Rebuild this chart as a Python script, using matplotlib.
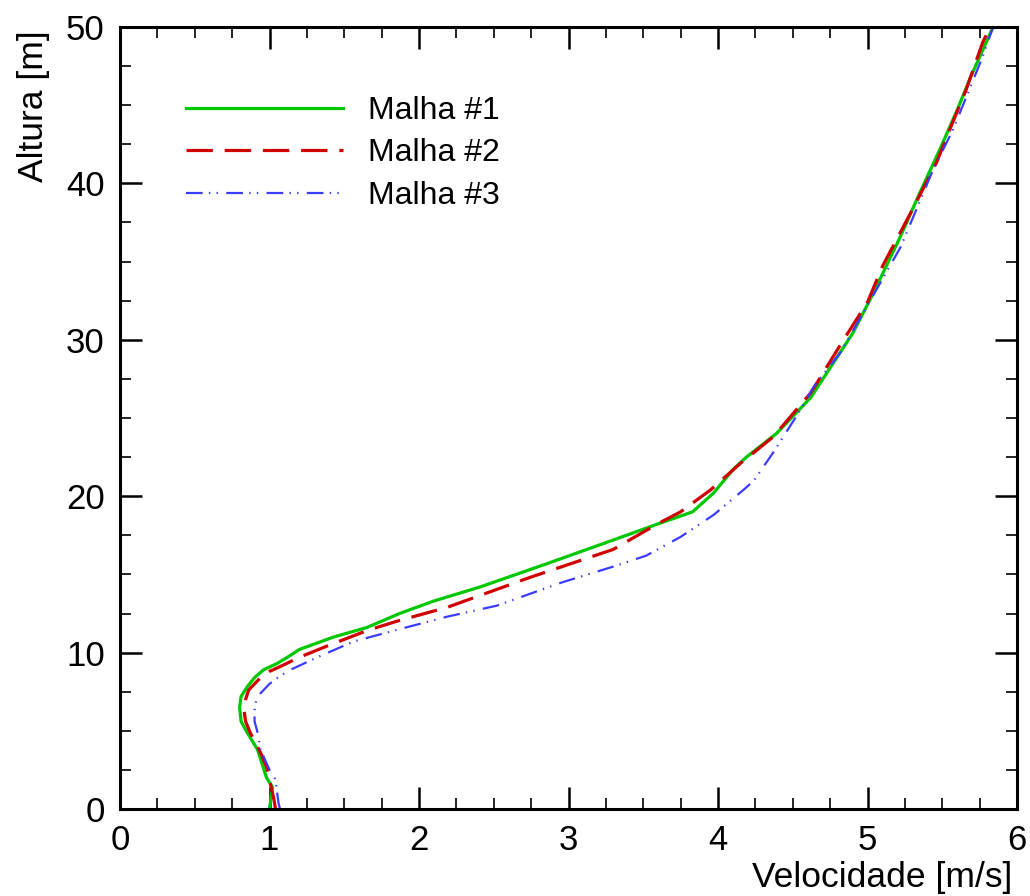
import matplotlib
matplotlib.use("Agg")
import matplotlib.pyplot as plt
from matplotlib.ticker import MultipleLocator

# velocity [m/s] vs height [m]
malha1_v = [1.00, 1.02, 0.98, 0.92, 0.85, 0.81, 0.80, 0.81, 0.85, 0.90, 0.96, 1.05, 1.12,
            1.20, 1.43, 1.65, 1.87, 2.10, 2.41, 2.86, 3.30, 3.59, 3.83, 3.97, 4.10, 4.19,
            4.39, 4.62, 4.77, 4.90, 5.04, 5.22, 5.35, 5.49, 5.60, 5.69, 5.84]
malha1_h = [0.0, 1.4, 2.0, 3.8, 4.9, 5.6, 6.5, 7.2, 7.8, 8.4, 8.9, 9.3, 9.7,
            10.2, 11.0, 11.6, 12.5, 13.3, 14.2, 15.7, 17.2, 18.2, 19.0, 20.2, 21.7, 22.5,
            24.0, 26.3, 28.5, 30.4, 33.0, 36.6, 39.4, 42.3, 44.7, 46.8, 50.0]

malha2_v = [1.04, 1.03, 0.98, 0.94, 0.87, 0.84, 0.83, 0.84, 0.86, 0.90, 0.94, 1.00, 1.07,
            1.20, 1.38, 1.65, 1.85, 2.19, 2.74, 3.30, 3.59, 3.75, 3.95, 4.15, 4.37, 4.62,
            4.84, 5.00, 5.10, 5.31, 5.46, 5.57, 5.66, 5.77, 5.82]
malha2_h = [0.0, 0.6, 2.7, 3.6, 4.9, 5.6, 6.3, 7.0, 7.6, 8.0, 8.4, 8.8, 9.1,
            9.7, 10.4, 11.4, 12.0, 12.9, 14.8, 16.6, 18.2, 19.0, 20.4, 22.1, 23.8, 26.6,
            30.0, 32.4, 34.7, 38.5, 41.3, 43.9, 46.0, 49.0, 50.0]

malha3_v = [1.07, 1.06, 1.04, 1.00, 0.94, 0.92, 0.90, 0.90, 0.91, 0.94, 1.00, 1.07, 1.14,
            1.32, 1.56, 1.83, 2.19, 2.52, 2.96, 3.30, 3.52, 3.75, 3.97, 4.17, 4.24, 4.37,
            4.55, 4.64, 4.82, 4.97, 5.22, 5.44, 5.57, 5.66, 5.77, 5.84]
malha3_h = [0.0, 0.4, 1.9, 2.5, 3.8, 4.9, 5.6, 6.3, 6.9, 7.4, 8.0, 8.5, 8.9,
            9.7, 10.7, 11.4, 12.3, 13.0, 14.5, 15.5, 16.2, 17.4, 18.8, 20.4, 21.0, 22.8,
            25.5, 27.0, 29.2, 31.7, 35.9, 40.9, 43.4, 45.5, 48.1, 50.0]

labels = ["Malha #1", "Malha #2", "Malha #3"]


def draw():
    plt.rcParams["font.family"] = ["Liberation Sans", "DejaVu Sans"]
    plt.rcParams["lines.scale_dashes"] = False

    fig = plt.figure(figsize=(10.3, 8.96), dpi=100)
    ax = fig.add_axes([120 / 1030, 87 / 896, 897 / 1030, 782 / 896])

    ax.plot(malha1_v, malha1_h, color="#00c800", lw=2.3, label=labels[0])
    ax.plot(malha2_v, malha2_h, color="#d00000", lw=2.3, dashes=(19, 8.5), label=labels[1])
    ax.plot(malha3_v, malha3_h, color="#3c3cff", lw=1.6,
            dashes=(12, 4.5, 1, 4.5, 1, 6), label=labels[2])

    ax.set_xlim(0, 6)
    ax.set_ylim(0, 50)
    ax.xaxis.set_major_locator(MultipleLocator(1))
    ax.xaxis.set_minor_locator(MultipleLocator(0.25))
    ax.yaxis.set_major_locator(MultipleLocator(10))
    ax.yaxis.set_minor_locator(MultipleLocator(2.5))
    ax.tick_params(which="both", direction="in", top=True, right=True, labelsize=25, pad=11)
    ax.tick_params(which="major", length=16, width=1.8)
    ax.tick_params(which="minor", length=8, width=1.2)
    for s in ax.spines.values():
        s.set_linewidth(2.2)

    ax.set_xlabel("Velocidade [m/s]", fontsize=25.5, loc="right")
    ax.xaxis.set_label_coords(0.9944, -0.066)
    ax.set_ylabel("Altura [m]", fontsize=25.5, loc="top")
    ax.yaxis.set_label_coords(-0.078, 0.996)

    ax.legend(loc="upper left", bbox_to_anchor=(0.074, 0.912), frameon=False,
              fontsize=23, handlelength=4.9, handletextpad=0.78, borderpad=0,
              borderaxespad=0, labelspacing=0.39)

    plt.savefig("out.png", dpi=100)


def main():
    draw()


if __name__ == "__main__":
    main()
